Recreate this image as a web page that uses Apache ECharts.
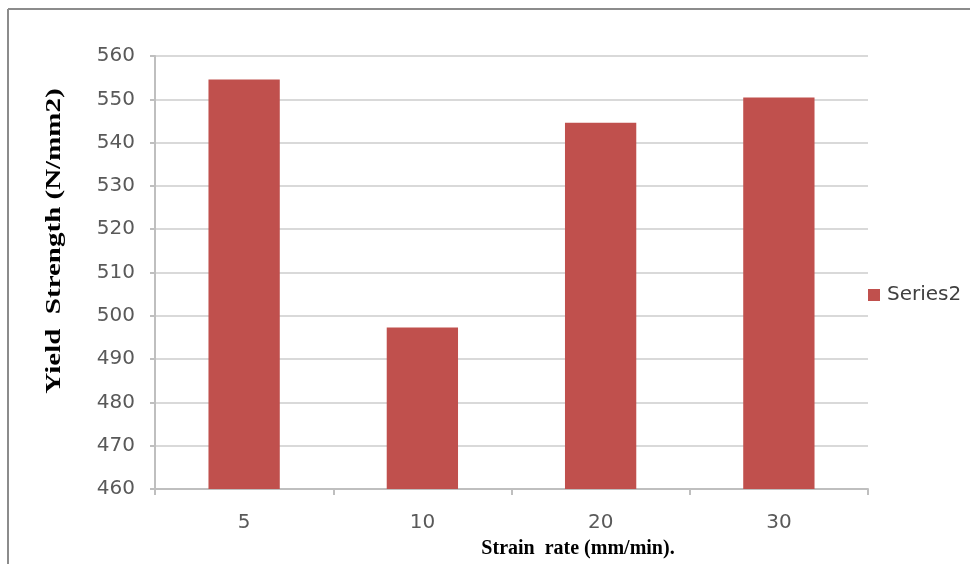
<!DOCTYPE html>
<html>
<head>
<meta charset="utf-8">
<script src="https://cdn.jsdelivr.net/npm/echarts@6/dist/echarts.min.js"></script>
<style>
  html, body { margin: 0; padding: 0; background: #ffffff; }
  #chart { width: 970px; height: 564px; }
</style>
</head>
<body>
<div id="chart"></div>
<script>
// Yield strength measured at each strain rate
const strainRates = ['5', '10', '20', '30'];
const yieldStrength = [554.6, 497.3, 544.6, 550.4];
const seriesName = 'Series2';
const xTitle = 'Strain  rate (mm/min).';
const yTitle = 'Yield  Strength (N/mm2)';

const chart = echarts.init(document.getElementById('chart'), null, { renderer: 'canvas' });

const labelFont = 'DejaVu Sans';
const titleFont = '"Liberation Serif", "Times New Roman", serif';

chart.setOption({
  animation: false,
  backgroundColor: '#ffffff',
  grid: { left: 155, top: 56, right: 102, bottom: 75, containLabel: false },
  legend: {
    data: [seriesName],
    left: 863,
    top: 280,
    orient: 'vertical',
    icon: 'rect',
    itemWidth: 12,
    itemHeight: 12,
    itemGap: 8,
    textStyle: { fontFamily: labelFont, fontSize: 20, color: '#404040', padding: [0, 0, 0, 2] }
  },
  xAxis: {
    type: 'category',
    data: strainRates,
    axisLine: { show: true, lineStyle: { color: '#bfbfbf', width: 2 } },
    axisTick: { show: true, alignWithLabel: false, length: 6, lineStyle: { color: '#bfbfbf', width: 2 } },
    axisLabel: { fontFamily: labelFont, fontSize: 20, color: '#595959', margin: 24 }
  },
  yAxis: {
    type: 'value',
    min: 460,
    max: 560,
    interval: 10,
    axisLine: { show: true, lineStyle: { color: '#bfbfbf', width: 2 } },
    axisTick: { show: true, length: 5, lineStyle: { color: '#bfbfbf', width: 2 } },
    axisLabel: { fontFamily: labelFont, fontSize: 20, color: '#595959', margin: 20 },
    splitLine: { show: true, lineStyle: { color: '#d9d9d9', width: 2 } }
  },
  series: [{
    name: seriesName,
    type: 'bar',
    data: yieldStrength,
    barWidth: '40%',
    itemStyle: { color: '#C0504D' }
  }],
  graphic: [
    // chart frame (top and left edges)
    { type: 'line', shape: { x1: 8, y1: 9, x2: 970, y2: 9 }, style: { stroke: '#8c8c8c', lineWidth: 2 }, silent: true },
    { type: 'line', shape: { x1: 8, y1: 9, x2: 8, y2: 564 }, style: { stroke: '#8c8c8c', lineWidth: 2 }, silent: true },
    // axis titles
    {
      type: 'text',
      x: 578, y: 549,
      style: { text: xTitle, font: 'bold 20px ' + titleFont, fill: '#000000', align: 'center', verticalAlign: 'middle' },
      silent: true
    },
    {
      type: 'text',
      x: 55, y: 241,
      rotation: Math.PI / 2,
      scaleX: 1.45,
      style: { text: yTitle, font: 'bold 20px ' + titleFont, fill: '#000000', align: 'center', verticalAlign: 'middle' },
      silent: true
    }
  ]
});
</script>
</body>
</html>
